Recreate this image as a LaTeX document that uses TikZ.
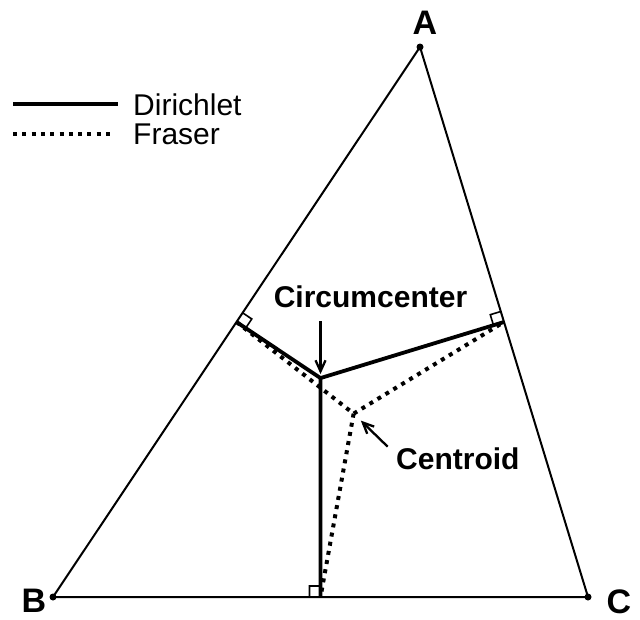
\documentclass[tikz,border=0pt]{standalone}
\usepackage{fontspec}
\setmainfont{Liberation Sans}
\usetikzlibrary{arrows.meta,calc}
\tikzset{
  >={Straight Barb[length=11pt,width=10pt]},
  side/.style={line width=2pt, line join=round},
  dirich/.style={line width=3.8pt, line join=round},
  fraser/.style={line width=4pt, line cap=butt, dash pattern=on 4pt off 5.3pt},
  vtx/.style={circle, fill, inner sep=0pt, minimum size=7pt},
  vname/.style={font=\fontsize{34}{40}\selectfont\bfseries, inner sep=0pt},
  ptname/.style={font=\fontsize{30}{36}\selectfont\bfseries, inner sep=0pt},
  keyname/.style={font=\fontsize{30}{36}\selectfont, inner sep=0pt, anchor=base west},
  pointer/.style={->, line width=2.3pt},
  rmark/.style={line width=1.6pt},
}

\begin{document}
\begin{tikzpicture}[x=1pt, y=-1pt]
  \path[use as bounding box, fill=white] (0,0) rectangle (640,619);

  % triangle
  \coordinate (A) at (420,47);
  \coordinate (B) at (53,597);
  \coordinate (C) at (588,597);
  \draw[side] (A) -- (B) -- (C) -- cycle;
  \node[vtx] (dotA) at (A) {};
  \node[vtx] (dotB) at (B) {};
  \node[vtx] (dotC) at (C) {};
  \node[vname] (labA) at ($(A)+(5,-24.5)$) {A};
  \node[vname] (labB) at ($(B)+(-19,3.5)$) {B};
  \node[vname] (labC) at ($(C)+(31,4.5)$) {C};

  % midpoints, circumcenter, centroid
  \coordinate (mAB) at ($(A)!0.5!(B)$);
  \coordinate (mAC) at ($(A)!0.5!(C)$);
  \coordinate (mBC) at ($(B)!0.5!(C)$);
  \coordinate (pAB) at ($(mAB)!1!90:(B)$);
  \coordinate (pBC) at ($(mBC)!1!90:(C)$);
  \coordinate (O) at (intersection of mAB--pAB and mBC--pBC);
  \coordinate (G) at ($0.3333*(A)+0.3333*(B)+0.3333*(C)$);

  % Dirichlet and Fraser lines
  \draw[dirich] (mAB) -- (O) -- (mAC);
  \draw[dirich] (O) -- (mBC);
  \draw[fraser] (mAB) -- (G) -- (mAC);
  \draw[fraser] (G) -- (mBC);

  % right angle marks
  \foreach \m/\e in {mAB/A, mAC/A, mBC/B} {
    \coordinate (q1) at ($(\m)!11pt!(\e)$);
    \coordinate (q2) at ($(\m)!11pt!(O)$);
    \draw[rmark] (q1) -- ($(q1)+(q2)-(\m)$) -- (q2);
  }

  % labels with pointers
  \node[ptname, anchor=base] (circlab) at (370.5,307.5) {Circumcenter};
  \draw[pointer] ($(O)+(0,-57)$) -- ($(O)+(0,-4)$);
  \node[ptname, anchor=base west] (cenlab) at (396,469) {Centroid};
  \coordinate (cenTail) at ($(G)+(34,33)$);
  \draw[pointer] (cenTail) -- ($(G)!10pt!(cenTail)$);

  % legend
  \coordinate (keyD1) at (13,104);
  \coordinate (keyD2) at (118,104);
  \coordinate (keyF1) at (13,134);
  \coordinate (keyF2) at (112,134);
  \draw[dirich] (keyD1) -- (keyD2);
  \draw[fraser] (keyF1) -- (keyF2);
  \node[keyname] (keyDtext) at (133,115) {Dirichlet};
  \node[keyname] (keyFtext) at (133,144) {Fraser};
\end{tikzpicture}
\end{document}
